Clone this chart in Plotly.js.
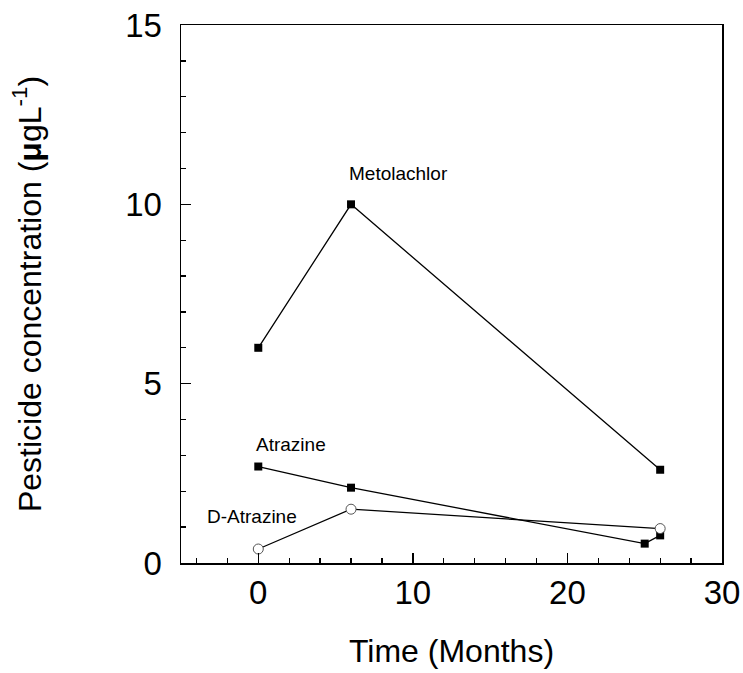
<!DOCTYPE html>
<html>
<head>
<meta charset="utf-8">
<script src="https://cdn.plot.ly/plotly-3.0.1.min.js"></script>
<style>html,body{margin:0;padding:0;background:#fff;}#chart{width:743px;height:673px;}</style>
</head>
<body>
<div id="chart"></div>
<script>
// Data
const metolachlorMonths = [0, 6, 26];
const metolachlorConc = [6.0, 10.0, 2.6];

const atrazineMonths = [0, 6, 25, 26];
const atrazineConc = [2.69, 2.1, 0.54, 0.77];

const dAtrazineMonths = [0, 6, 26];
const dAtrazineConc = [0.39, 1.5, 0.96];

const seriesLabels = ["Metolachlor", "Atrazine", "D-Atrazine"];
const labelPositions = [[9.1, 10.85], [2.1, 3.3], [-0.4, 1.3]];

const xTitle = "Time (Months)";
const yTitle = "Pesticide concentration (<b>μ</b>gL<sup>-1</sup>)";

const FONT = "Liberation Sans, Arial, sans-serif";

const lineStyle = {color: "#000", width: 1.3};
const sq = {symbol: "square", size: 8, color: "#000", line: {width: 0}};
const circ = {symbol: "circle", size: 10, color: "#fff", line: {color: "#555", width: 1}};

const traces = [
  {x: metolachlorMonths, y: metolachlorConc, name: seriesLabels[0], mode: "lines+markers", line: lineStyle, marker: sq, cliponaxis: false},
  {x: atrazineMonths, y: atrazineConc, name: seriesLabels[1], mode: "lines+markers", line: lineStyle, marker: sq, cliponaxis: false},
  {x: dAtrazineMonths, y: dAtrazineConc, name: seriesLabels[2], mode: "lines+markers", line: lineStyle, marker: circ, cliponaxis: false}
];

const annotations = seriesLabels.map((t, i) => ({
  x: labelPositions[i][0], y: labelPositions[i][1], xref: "x", yref: "y",
  text: t, showarrow: false, font: {family: FONT, size: 19, color: "#000"},
  xanchor: "center", yanchor: "middle"
}));

const layout = {
  width: 743, height: 673,
  margin: {l: 181, r: 21, t: 25, b: 110},
  paper_bgcolor: "#fff", plot_bgcolor: "#fff",
  showlegend: false,
  font: {family: FONT, color: "#000"},
  xaxis: {
    range: [-5, 30], dtick: 10, tick0: 0,
    ticks: "inside", ticklen: 10, tickwidth: 1.3, tickcolor: "#000",
    minor: {dtick: 2, tick0: 0, ticks: "inside", ticklen: 5, tickwidth: 1.3, tickcolor: "#000"},
    showline: true, linecolor: "#000", linewidth: 1.5, mirror: true,
    showgrid: false, zeroline: false,
    tickfont: {family: FONT, size: 33, color: "#000"},
    ticklabelstandoff: 0,
    title: {text: xTitle, font: {family: FONT, size: 32, color: "#000"}, standoff: 29}
  },
  yaxis: {
    range: [0, 15], dtick: 5, tick0: 0,
    ticks: "inside", ticklen: 10, tickwidth: 1.3, tickcolor: "#000",
    minor: {dtick: 1, tick0: 0, ticks: "inside", ticklen: 5, tickwidth: 1.3, tickcolor: "#000"},
    showline: true, linecolor: "#000", linewidth: 1.5, mirror: true,
    showgrid: false, zeroline: false,
    tickfont: {family: FONT, size: 33, color: "#000"},
    ticklabelstandoff: 11,
    title: {text: yTitle, font: {family: FONT, size: 32, color: "#000"}, standoff: 74}
  },
  annotations: annotations
};

Plotly.newPlot("chart", traces, layout, {staticPlot: true, displayModeBar: false});
</script>
</body>
</html>
